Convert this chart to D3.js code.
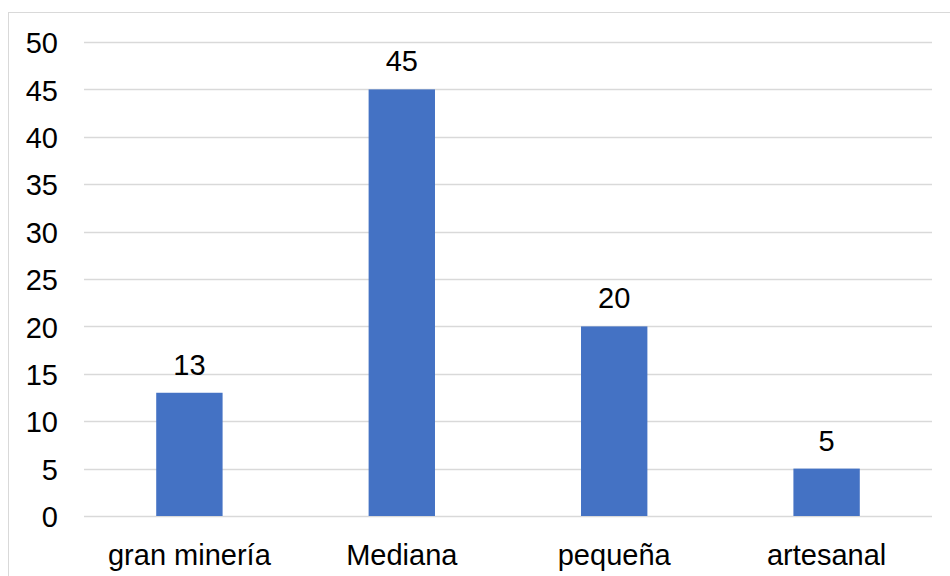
<!DOCTYPE html>
<html>
<head>
<meta charset="utf-8">
<script src="https://cdn.jsdelivr.net/npm/d3@7"></script>
<style>
  body { margin: 0; background: #fff; }
  text { font-family: "Liberation Sans", Arial, sans-serif; fill: #000; }
</style>
</head>
<body>
<div id="chart"></div>
<script>
// chart data
var categories = ["gran minería", "Mediana", "pequeña", "artesanal"];
var values = [13, 45, 20, 5];
var yTicks = [0, 5, 10, 15, 20, 25, 30, 35, 40, 45, 50];

var svgWidth = 950;
var svgHeight = 576;
var fontSize = "29px";

var margin = { top: 42, right: 18, bottom: 60, left: 84 };
var chartWidth = 932 - margin.left;
var chartHeight = 516 - margin.top;

var svg = d3.select("#chart")
    .append("svg")
    .attr("width", svgWidth)
    .attr("height", svgHeight);

// outer chart border (cut off on the right and bottom)
svg.append("rect")
    .attr("x", 8.5)
    .attr("y", 12.5)
    .attr("width", 960)
    .attr("height", 600)
    .attr("fill", "none")
    .attr("stroke", "#d9d9d9")
    .attr("stroke-width", 1);

var chartGroup = svg.append("g")
    .attr("transform", `translate(${margin.left}, ${margin.top})`);

var xScale = d3.scaleBand()
    .domain(categories)
    .range([0, chartWidth])
    .paddingInner(0.6875)
    .paddingOuter(0.34);

var yScale = d3.scaleLinear()
    .domain([0, 50])
    .range([chartHeight, 0]);

// gridlines
chartGroup.selectAll(".grid")
    .data(yTicks)
    .enter()
    .append("line")
    .attr("x1", 0)
    .attr("x2", chartWidth)
    .attr("y1", d => Math.round(yScale(d)) + 0.5)
    .attr("y2", d => Math.round(yScale(d)) + 0.5)
    .attr("stroke", "#d9d9d9")
    .attr("stroke-width", 1.5);

// y axis labels
var leftAxis = d3.axisLeft(yScale).tickValues(yTicks).tickSize(0).tickPadding(26);
var yAxis = chartGroup.append("g").call(leftAxis);
yAxis.select(".domain").remove();
yAxis.selectAll("text")
    .attr("dy", "0.37em")
    .style("font-size", fontSize)
    .style("font-family", "Liberation Sans, Arial, sans-serif")
    .attr("fill", "#000");

// x axis labels
var bottomAxis = d3.axisBottom(xScale).tickSize(0).tickPadding(28);
var xAxis = chartGroup.append("g")
    .attr("transform", `translate(0, ${chartHeight})`)
    .call(bottomAxis);
xAxis.select(".domain").remove();
xAxis.selectAll("text")
    .style("font-size", fontSize)
    .style("font-family", "Liberation Sans, Arial, sans-serif")
    .attr("fill", "#000");

// bars
chartGroup.selectAll(".bar")
    .data(values)
    .enter()
    .append("rect")
    .attr("x", (d, i) => xScale(categories[i]))
    .attr("y", d => yScale(d))
    .attr("width", xScale.bandwidth())
    .attr("height", d => chartHeight - yScale(d))
    .attr("fill", "#4472c4");

// value labels
chartGroup.selectAll(".label")
    .data(values)
    .enter()
    .append("text")
    .attr("x", (d, i) => xScale(categories[i]) + xScale.bandwidth() / 2)
    .attr("y", d => yScale(d) - 18)
    .attr("text-anchor", "middle")
    .style("font-size", fontSize)
    .text(d => d);
</script>
</body>
</html>
